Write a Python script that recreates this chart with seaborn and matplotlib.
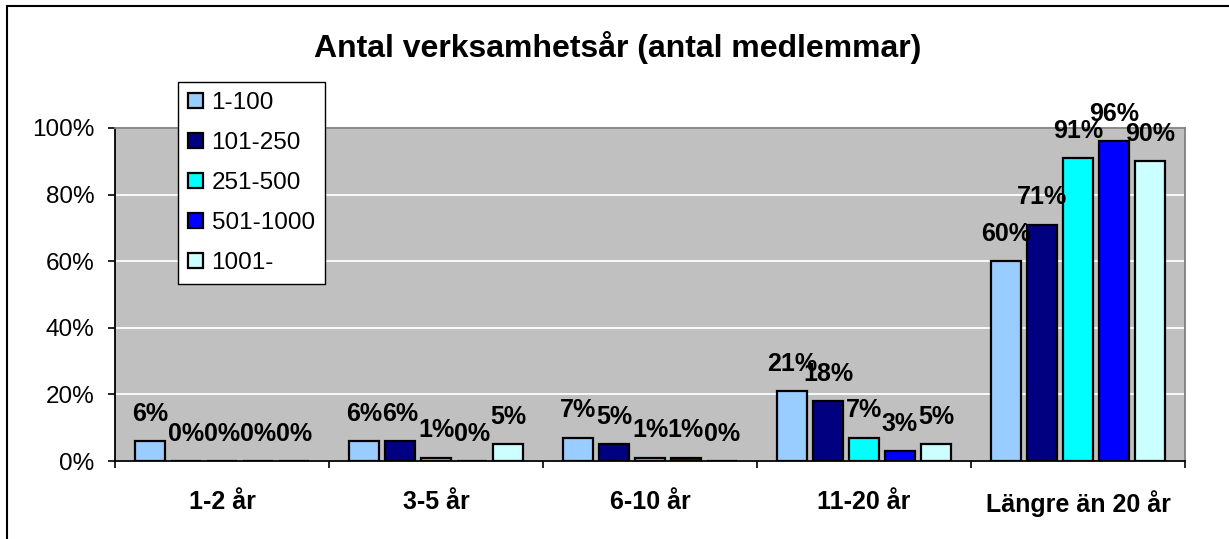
import matplotlib
matplotlib.use("Agg")
import matplotlib.pyplot as plt
import seaborn as sns
import pandas as pd
from matplotlib.patches import Rectangle
from matplotlib.ticker import FixedLocator, PercentFormatter

# data (fractions)
categories = ["1-2 år", "3-5 år", "6-10 år", "11-20 år", "Längre än 20 år"]
groups = ["1-100", "101-250", "251-500", "501-1000", "1001-"]
v_1_100 = [0.06, 0.06, 0.07, 0.21, 0.60]
v_101_250 = [0.00, 0.06, 0.05, 0.18, 0.71]
v_251_500 = [0.00, 0.01, 0.01, 0.07, 0.91]
v_501_1000 = [0.00, 0.00, 0.01, 0.03, 0.96]
v_1001 = [0.00, 0.05, 0.00, 0.05, 0.90]
colors = ["#99CCFF", "#000080", "#00FFFF", "#0000FF", "#CCFFFF"]

series = [v_1_100, v_101_250, v_251_500, v_501_1000, v_1001]
rows = []
for g, vals in zip(groups, series):
    for c, v in zip(categories, vals):
        rows.append({"kategori": c, "grupp": g, "andel": v})
df = pd.DataFrame(rows)

sns.set_style("ticks")
plt.rcParams["font.family"] = ["Liberation Sans", "DejaVu Sans"]
plt.rcParams.update({"text.color": "black", "xtick.color": "black",
                     "ytick.color": "black", "axes.labelcolor": "black"})

W, H = 1229, 539
fig = plt.figure(figsize=(W / 100, H / 100), dpi=100)
ax = fig.add_axes([115 / W, 1 - 461 / H, 1070 / W, 333 / H])
ax.set_facecolor("#C0C0C0")

sns.barplot(data=df, x="kategori", y="andel", hue="grupp", order=categories,
            hue_order=groups, palette=colors, saturation=1, width=0.84, gap=0.17,
            edgecolor="black", linewidth=1.6, errorbar=None, ax=ax)

for cont in ax.containers:
    ax.bar_label(cont, fmt=lambda v: f"{v:.0%}", fontsize=18, fontweight="bold",
                 padding=11, color="black")

ax.set_ylim(0, 1)
ax.set_xlim(-0.5, 4.5)
ax.yaxis.set_major_locator(FixedLocator([0, 0.2, 0.4, 0.6, 0.8, 1.0]))
ax.yaxis.set_major_formatter(PercentFormatter(1.0, decimals=0))
ax.yaxis.grid(True, color="white", lw=1.3)
ax.set_axisbelow(True)
ax.tick_params(axis="y", length=5, width=1.2, pad=10, labelsize=17.5, colors="black")
ax.tick_params(axis="x", which="major", length=0, pad=21, labelsize=18, labelcolor="black")
ax.xaxis.set_minor_locator(FixedLocator([-0.5, 0.5, 1.5, 2.5, 3.5, 4.5]))
ax.tick_params(axis="x", which="minor", length=5, width=1.2, direction="out", color="black")
for lab in ax.get_xticklabels():
    lab.set_fontweight("bold")
ax.set_xlabel("")
ax.set_ylabel("")

for s in ["left", "bottom"]:
    ax.spines[s].set_color("black")
    ax.spines[s].set_linewidth(1.3)
for s in ["top", "right"]:
    ax.spines[s].set_visible(True)
    ax.spines[s].set_color("#808080")
    ax.spines[s].set_linewidth(1.3)

handles, labels = ax.get_legend_handles_labels()
ax.get_legend().remove()
leg = ax.legend(handles, labels, loc="upper left", bbox_to_anchor=(178 / W, 1 - 82 / H),
                bbox_transform=fig.transFigure, fontsize=17.5, frameon=True,
                fancybox=False, framealpha=1, edgecolor="black", borderpad=0.42,
                handlelength=0.6, handleheight=0.6, handletextpad=0.36,
                labelspacing=0.74, borderaxespad=0, labelcolor="black")
leg.get_frame().set_linewidth(1.0)

fig.text(618 / W, 1 - 48 / H, "Antal verksamhetsår (antal medlemmar)",
         ha="center", va="center", fontsize=23, fontweight="bold", color="black")

fig.patches.append(Rectangle((7 / W, -0.1), 1.2, 1.1 - 6 / H, transform=fig.transFigure,
                             fill=False, edgecolor="black", lw=1.5))

fig.savefig("out.png", dpi=100, facecolor="white")
